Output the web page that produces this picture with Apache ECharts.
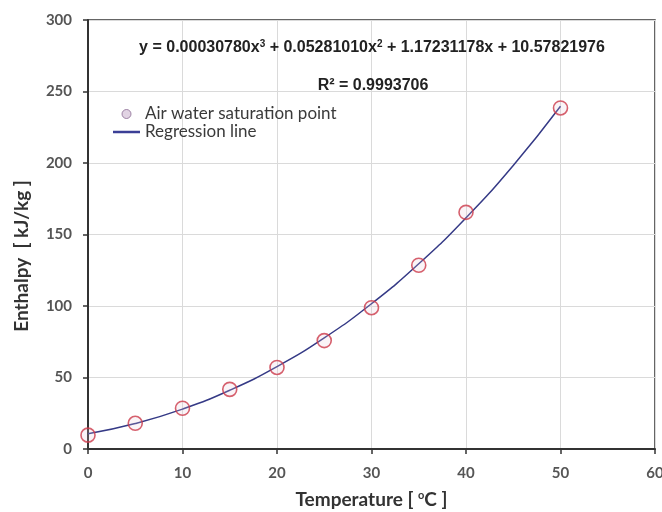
<!DOCTYPE html>
<html>
<head>
<meta charset="utf-8">
<script src="https://cdn.jsdelivr.net/npm/echarts@6/dist/echarts.min.js"></script>
<style>
  html, body { margin: 0; padding: 0; background: #fff; }
  #chart { width: 662px; height: 512px; }
</style>
</head>
<body>
<div id="chart"></div>
<script>
// measured points (temperature, enthalpy)
const tempPoints = [0, 5, 10, 15, 20, 25, 30, 35, 40, 50];
const enthalpyPoints = [9.7, 18, 28.5, 41.7, 57, 75.8, 98.8, 128.5, 165.5, 238.5];

// regression curve
const tempCurve = [0, 5, 10, 15, 20, 25, 30, 35, 40, 45, 50];
const enthalpyCurve = [10.6, 17.8, 27.9, 41.1, 57.6, 77.7, 101.6, 129.5, 161.7, 198.3, 239.7];

const equationText = "y = 0.00030780x{sup|3} + 0.05281010x{sup|2} + 1.17231178x + 10.57821976";
const r2Text = "R² = 0.9993706";

let myChart = echarts.init(document.getElementById("chart"));

let option = {
  animation: false,
  grid: {
    left: 88,
    right: 7,
    top: 20,
    bottom: 63,
    outerBoundsMode: "none",
    show: true,
    borderColor: "#333",
    borderWidth: 1.5,
  },
  title: [
    {
      text: equationText,
      left: 367,
      top: 34,
      textAlign: "center",
      textStyle: {
        fontFamily: "Liberation Sans",
        fontSize: 16,
        fontWeight: "bold",
        color: "#222",
        rich: {
          sup: { fontFamily: "Liberation Sans", fontSize: 10, fontWeight: "bold", verticalAlign: "top", padding: [0, 0, 7, 0], color: "#222" },
        },
      },
    },
    {
      text: r2Text,
      left: 368,
      top: 73,
      textAlign: "center",
      textStyle: { fontFamily: "Liberation Sans", fontSize: 16, fontWeight: "bold", color: "#222" },
    },
  ],
  legend: {
    left: 108,
    top: 100,
    orient: "vertical",
    itemGap: 0,
    itemWidth: 27,
    itemHeight: 9,
    textStyle: { fontFamily: "Lato", fontSize: 17, color: "#3a3a3a", lineHeight: 18 },
    data: [
      { name: "Air water saturation point", icon: "circle", itemStyle: { color: "#dac8dc", borderColor: "#8a6a92", borderWidth: 1 } },
      { name: "Regression line", icon: "path://M0,0 L27,0 L27,2.5 L0,2.5 Z", itemStyle: { color: "#3b3f96" } },
    ],
  },
  xAxis: {
    type: "value",
    min: 0,
    max: 60,
    interval: 10,
    name: "Temperature [ {sup|o}C ]",
    nameLocation: "middle",
    nameGap: 41,
    nameTextStyle: {
      fontFamily: "Lato",
      fontSize: 19,
      fontWeight: "bold",
      color: "#333",
      rich: {
        sup: { fontFamily: "Lato", fontSize: 11, fontWeight: "bold", verticalAlign: "top", padding: [0, 0, 8, 0], color: "#333" },
      },
    },
    axisLine: { onZero: false, lineStyle: { color: "#333", width: 2 } },
    axisTick: { show: true, length: 5, lineStyle: { color: "#333", width: 1.5 } },
    axisLabel: { fontFamily: "Lato", fontSize: 15, fontWeight: "bold", color: "#555", margin: 17 },
    splitLine: { show: true, lineStyle: { color: "#dadada", width: 1 } },
  },
  yAxis: {
    type: "value",
    min: 0,
    max: 300,
    interval: 50,
    name: "Enthalpy  [ kJ/kg ]",
    nameLocation: "middle",
    nameGap: 57,
    nameTextStyle: { fontFamily: "Lato", fontSize: 19, fontWeight: "bold", color: "#333", padding: [0, 43, 0, 0] },
    axisLine: { show: true, lineStyle: { color: "#333", width: 2 } },
    axisTick: { show: true, length: 5, lineStyle: { color: "#333", width: 1.5 } },
    axisLabel: { fontFamily: "Lato", fontSize: 15, fontWeight: "bold", color: "#555", margin: 16 },
    splitLine: { show: true, lineStyle: { color: "#dadada", width: 1 } },
  },
  series: [
    {
      name: "Regression line",
      type: "line",
      smooth: true,
      showSymbol: false,
      data: tempCurve.map((t, i) => [t, enthalpyCurve[i]]),
      lineStyle: { color: "#353a86", width: 1.5 },
      itemStyle: { color: "#353a86" },
      z: 2,
    },
    {
      name: "Air water saturation point",
      type: "scatter",
      symbol: "circle",
      symbolSize: 14,
      data: tempPoints.map((t, i) => [t, enthalpyPoints[i]]),
      itemStyle: { color: "rgba(230,200,215,0.25)", borderColor: "#cc3a4a", borderWidth: 1.6 },
      z: 3,
    },
  ],
};

myChart.setOption(option);
</script>
</body>
</html>
